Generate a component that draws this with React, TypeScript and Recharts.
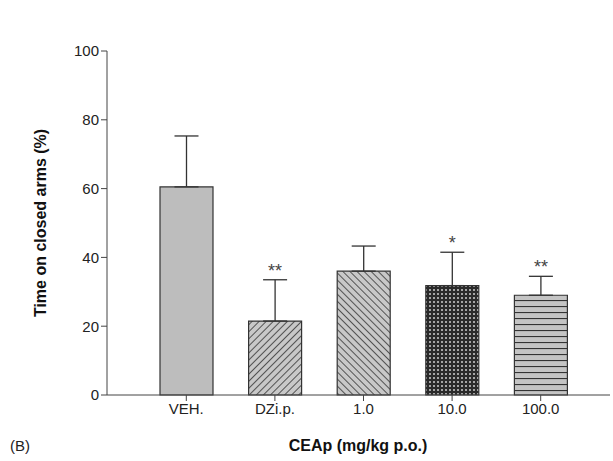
import React from 'react';
import { BarChart, Bar, XAxis, YAxis, ErrorBar, LabelList, Cell } from 'recharts';

const categories = ['VEH.', 'DZi.p.', '1.0', '10.0', '100.0'];
const means = [60.5, 21.5, 36, 31.8, 29];
const sems = [14.8, 12, 7.3, 9.7, 5.5];
const marks = ['', '**', '', '*', '**'];
const yTicks = [0, 20, 40, 60, 80, 100];

const data = categories.map((c, i) => ({ name: c, v: means[i], err: [0, sems[i]], mark: marks[i], e: sems[i] }));
const fills = ['#bdbdbd', 'url(#pDiag)', 'url(#pDiag2)', 'url(#pDots)', 'url(#pHoriz)'];

const Star = (props: any) => {
  const { x, width, y, height, index } = props;
  const d = data[index];
  if (!d.mark) return null;
  const per = height / d.v;
  const ty = y + height - (d.v + d.e) * per - 3;
  return <text x={x + width / 2} y={ty} textAnchor="middle" fontSize={18} fill="#444" fontFamily="Liberation Sans, Arial">{d.mark}</text>;
};

export default function App() {
  return (
    <div style={{ position: 'absolute', left: 0, top: 0, width: 613, height: 461, background: '#fff', fontFamily: 'Liberation Sans, Arial' }}>
      <BarChart width={613} height={461} data={data} margin={{ top: 51, right: 3, bottom: 36, left: 47 }} barCategoryGap={18}>
        <defs>
          <pattern id="pDiag" width="5" height="5" patternUnits="userSpaceOnUse" patternTransform="rotate(45)">
            <rect width="5" height="5" fill="#c8c8c8" />
            <line x1="0" y1="0" x2="0" y2="5" stroke="#333" strokeWidth="1.6" />
          </pattern>
          <pattern id="pDiag2" width="5" height="5" patternUnits="userSpaceOnUse" patternTransform="rotate(-45)">
            <rect width="5" height="5" fill="#c8c8c8" />
            <line x1="0" y1="0" x2="0" y2="5" stroke="#333" strokeWidth="1.6" />
          </pattern>
          <pattern id="pDots" width="4" height="4" patternUnits="userSpaceOnUse">
            <rect width="4" height="4" fill="#2a2a2a" />
            <circle cx="2" cy="2" r="1" fill="#cfcfcf" />
          </pattern>
          <pattern id="pHoriz" width="6" height="6" patternUnits="userSpaceOnUse">
            <rect width="6" height="6" fill="#c4c4c4" />
            <line x1="0" y1="0.5" x2="6" y2="0.5" stroke="#333" strokeWidth="1.2" />
          </pattern>
        </defs>
        <XAxis dataKey="name" padding={{ left: 35, right: 25 }} tick={{ fill: '#222', fontSize: 15 }} tickLine={{ stroke: '#444' }} axisLine={{ stroke: '#444' }} tickSize={6} />
        <YAxis width={60} domain={[0, 100]} ticks={yTicks} tick={{ fill: '#222', fontSize: 15 }} tickLine={{ stroke: '#444' }} axisLine={{ stroke: '#444' }} tickSize={6} />
        <Bar dataKey="v" isAnimationActive={false} stroke="#333" strokeWidth={1.2}>
          {data.map((d, i) => <Cell key={i} fill={fills[i]} />)}
          <ErrorBar dataKey="err" width={12} stroke="#333" strokeWidth={1.3} direction="y" />
          <LabelList dataKey="mark" content={Star} />
        </Bar>
        <text x={40} y={223} transform="rotate(-90 40 223)" textAnchor="middle" dominantBaseline="central" fontWeight="bold" fontSize={16} fill="#111">Time on closed arms (%)</text>
        <text x={358} y={451} textAnchor="middle" fontWeight="bold" fontSize={16} fill="#111">CEAp (mg/kg p.o.)</text>
        <text x={10} y={451} fontSize={15} fill="#222">(B)</text>
      </BarChart>
    </div>
  );
}
